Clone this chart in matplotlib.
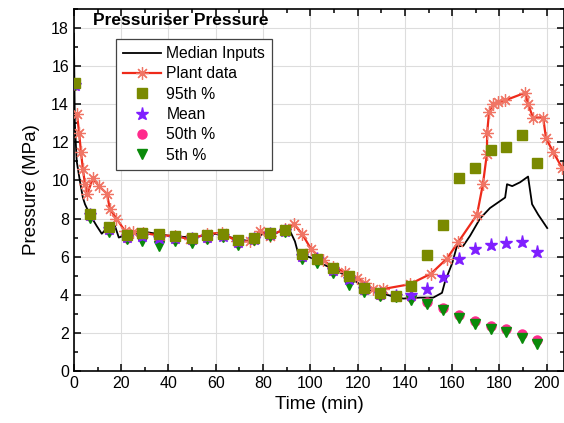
import matplotlib
matplotlib.use("Agg")
import matplotlib.pyplot as plt
from matplotlib.ticker import MultipleLocator

plt.rcParams['font.family'] = ['Liberation Sans', 'DejaVu Sans']

# Median inputs (black line)
med_t = [0, 0.4, 1.2, 2.5, 3.8, 4.7, 6.8, 9.7, 11.8, 14, 17.4, 19, 22, 30, 40, 50, 60, 70, 75, 80,
         85, 89, 91.4, 93.5, 94.8, 97, 101, 105.4, 111.3, 118, 124, 129.5, 136.7, 139.3, 146.4, 152,
         155.7, 157, 160, 162, 164.6, 167.6, 171.8, 176, 182.4, 183.2, 185.4, 188.7, 192.1, 193.8,
         196.4, 200.2]
med_p = [17.7, 13, 11, 10, 9.1, 8.75, 8.2, 7.6, 7.2, 7.5, 7.6, 7.0, 7.15, 7.3, 7.1, 7.0, 7.2, 6.9, 6.8, 7.2,
         7.2, 7.45, 7.35, 6.8, 6.2, 6.1, 5.9, 5.6, 5.25, 4.8, 4.3, 4.1, 3.85, 3.8, 3.85, 3.85,
         4.1, 4.7, 5.65, 6.55, 6.55, 7.1, 8.0, 8.55, 9.1, 9.8, 9.7, 9.9, 10.2, 8.75,
         8.2, 7.5]

# Plant data (red line with asterisks)
plant_t = [1.3, 2.2, 3, 3.8, 4.7, 5.7, 8, 10.6, 14, 15.2, 18, 21.6, 25, 29.2, 36.4, 42.7, 49, 56.3,
           62.6, 69, 74.5, 78.7, 83, 89.3, 93.1, 96.5, 100.3, 105.4, 109.6, 114.5, 119.8, 123.2, 126.5,
           130.8, 142, 151, 157.8, 162.5, 170.5, 173, 174.7, 174.8, 175.6, 177.3, 179.4, 182.4, 190.9,
           192.1, 194.2, 198.5, 199.7, 202.7, 206.5]
plant_p = [13.5, 12.5, 11.5, 10.6, 9.8, 9.3, 10.1, 9.7, 9.3, 8.5, 8.0, 7.35, 7.3, 7.25, 7.1, 7.1, 6.9, 7.2,
           7.25, 6.8, 6.8, 7.35, 7.1, 7.45, 7.7, 7.2, 6.4, 5.8, 5.45, 5.2, 4.9, 4.6, 4.3,
           4.3, 4.55, 5.1, 5.9, 6.75, 8.2, 9.8, 11.4, 12.5, 13.6, 14.0, 14.1, 14.2, 14.6,
           14.0, 13.3, 13.3, 12.2, 11.5, 10.65]

# Percentile / mean runs
run_t = [0.3, 7, 15, 22.5, 29, 36, 42.7, 49.8, 56.3, 63, 69.4, 76.2, 82.9, 89.3, 96.5, 102.8, 109.6,
         116.4, 122.7, 129.5, 136.3, 142.6, 149.4, 156.2, 162.7, 169.7, 176.5, 182.8, 189.6, 196]
p95 = [15.1, 8.25, 7.55, 7.15, 7.25, 7.2, 7.1, 7.0, 7.15, 7.2, 6.85, 7.0, 7.25, 7.4, 6.15, 5.9, 5.4,
       5.0, 4.35, 4.1, 3.95, 4.45, 6.1, 7.65, 10.1, 10.65, 11.6, 11.75, 12.4, 10.9]
mean = [15.0, 8.2, 7.45, 7.05, 7.1, 7.0, 7.0, 6.9, 7.05, 7.1, 6.75, 6.95, 7.2, 7.35, 6.05, 5.85, 5.3,
        4.85, 4.3, 4.05, 3.95, 4.0, 4.3, 4.95, 5.9, 6.4, 6.6, 6.7, 6.75, 6.25]
p50 = [15.0, 8.15, 7.4, 7.0, 7.05, 6.9, 6.95, 6.85, 7.0, 7.1, 6.7, 6.9, 7.15, 7.35, 6.0, 5.8, 5.25,
       4.8, 4.25, 4.0, 3.95, 3.88, 3.64, 3.32, 2.94, 2.62, 2.36, 2.19, 1.92, 1.61]
p5 = [15.0, 8.05, 7.27, 6.9, 6.8, 6.55, 6.8, 6.73, 6.95, 7.05, 6.6, 6.85, 7.1, 7.3, 5.9, 5.68, 5.16,
      4.5, 4.16, 3.93, 3.9, 3.74, 3.5, 3.18, 2.8, 2.48, 2.19, 2.06, 1.71, 1.40]

fig = plt.figure(figsize=(5.64, 4.23), dpi=100)
ax = fig.add_axes([0.131, 0.123, 0.869, 0.856])

ax.plot(med_t, med_p, color='black', lw=1.3, label='Median Inputs', zorder=3)
ax.plot(plant_t, plant_p, color='#ee2a1a', lw=1.6, marker=(8, 2, 0), ms=9,
        mec='#f07565', mew=0.9, label='Plant data', zorder=4)
ax.plot(run_t, p95, ls='none', marker='s', ms=6.5, color='#7a8a00', label='95th %', zorder=8)
ax.plot(run_t, mean, ls='none', marker='*', ms=9.5, color='#7f1fff', label='Mean', zorder=7)
ax.plot(run_t, p50, ls='none', marker='o', ms=6.5, color='#ff2a8c', label='50th %', zorder=5)
ax.plot(run_t, p5, ls='none', marker='v', ms=6.5, color='#0a8a0a', label='5th %', zorder=6)

ax.set_xlim(0, 207.3)
ax.set_ylim(0, 19)
ax.xaxis.set_major_locator(MultipleLocator(20))
ax.xaxis.set_minor_locator(MultipleLocator(10))
ax.yaxis.set_major_locator(MultipleLocator(2))
ax.yaxis.set_minor_locator(MultipleLocator(1))
ax.tick_params(which='both', direction='in', top=True, right=True, labelsize=11.5, width=1.1)
ax.tick_params(which='major', length=5)
ax.tick_params(which='minor', length=3)
ax.grid(True, which='major', color='#dddddd', lw=0.8)
ax.set_axisbelow(True)
for s in ax.spines.values():
    s.set_linewidth(1.2)

ax.set_xlabel('Time (min)', fontsize=13.5, labelpad=4)
ax.set_ylabel('Pressure (MPa)', fontsize=13.5, labelpad=8)
ax.text(0.04, 0.99, 'Pressuriser Pressure', transform=ax.transAxes, fontsize=12.5,
        fontweight='bold', va='top', ha='left')

leg = ax.legend(loc='upper left', bbox_to_anchor=(0.086, 0.917), borderaxespad=0,
                fontsize=11.3, labelspacing=0.34, handlelength=2.4, handletextpad=0.35,
                fancybox=False, edgecolor='#444444', framealpha=1, borderpad=0.45)
leg.get_frame().set_linewidth(0.9)

fig.savefig('out.png', dpi=100)
